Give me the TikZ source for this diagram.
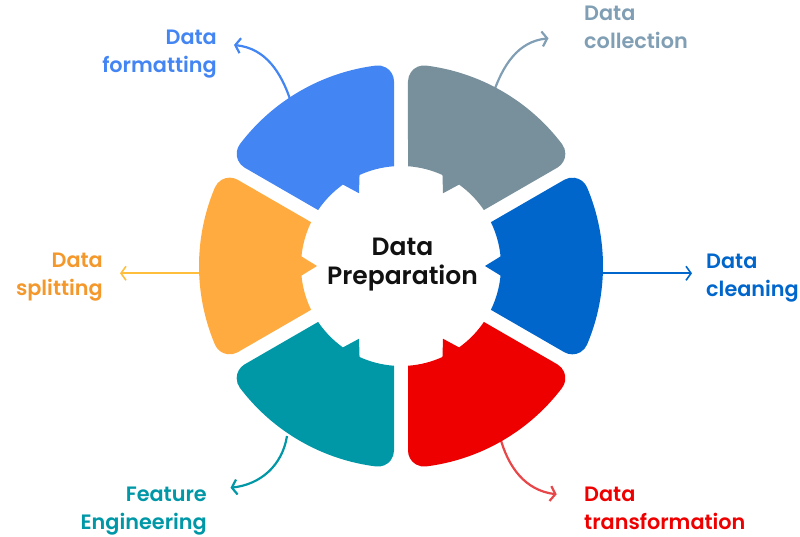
\documentclass[tikz,border=0pt]{standalone}
\usepackage{fontspec}
\setmainfont{Poppins SemiBold}[Ligatures=NoCommon]
\usetikzlibrary{arrows.meta}

% segment colours
\definecolor{fmtCol}{HTML}{4385F3}
\definecolor{collCol}{HTML}{78909C}
\definecolor{collText}{HTML}{809EB4}
\definecolor{cleanCol}{HTML}{0066CC}
\definecolor{splitCol}{HTML}{FFAB40}
\definecolor{splitText}{HTML}{F4982C}
\definecolor{splitArrow}{HTML}{FFBE3C}
\definecolor{featCol}{HTML}{0097A7}
\definecolor{transCol}{HTML}{EE0000}
\definecolor{transArrow}{HTML}{E8474A}
\definecolor{hubText}{HTML}{111111}

% geometry of the ring (pt): outer radius, inner radius, half gap, corner radius
\newcommand\segRo{202}
\newcommand\segRi{100}
\newcommand\segGap{7}
\newcommand\segRc{16}
\newcommand\segTip{84}
\newcommand\segNotch{5.5}

\begin{document}
\begin{tikzpicture}[x=1pt,y=1pt,
  lbl/.style={inner sep=0pt, font=\fontsize{20.8}{28}\selectfont},
  hub/.style={inner sep=0pt, align=center, text=hubText,
              font=\fontsize{25}{29}\selectfont},
  curvearrow/.style={line width=2.2pt, -{Straight Barb[length=5pt,width=15pt]}},
  flatarrow/.style={line width=1.6pt, -{Straight Barb[length=5pt,width=14pt]}}]
\useasboundingbox (0,0) rectangle (800,536);

% derived angles for the straight edges and corner fillets
\pgfmathsetmacro\segdI{asin(\segGap/\segRi)}
\pgfmathsetmacro\segPhiC{asin((\segGap+\segRc)/(\segRo-\segRc))}
\pgfmathsetmacro\segTE{(\segRo-\segRc)*cos(\segPhiC)}
\pgfmathsetmacro\segRE{veclen(\segTE,\segGap)}
\pgfmathsetmacro\segAE{atan(\segGap/\segTE)}

% one ring segment starting at angle #1, filled with colour #2
\newcommand\ringseg[2]{%
  \pgfmathsetmacro\sa{#1}%
  \pgfmathsetmacro\sb{#1+60}%
  \pgfmathsetmacro\sm{#1+30}%
  \fill[#2]
    (\sa+\segdI:\segRi) -- (\sa+\segAE:\segRE)
    arc[start angle=\sa-90, end angle=\sa+\segPhiC, radius=\segRc]
    arc[start angle=\sa+\segPhiC, end angle=\sb-\segPhiC, radius=\segRo]
    arc[start angle=\sb-\segPhiC, end angle=\sb+90, radius=\segRc]
    -- (\sb-\segdI:\segRi)
    arc[start angle=\sb-\segdI, end angle=\sm+\segNotch, radius=\segRi]
    -- (\sm:\segTip) -- (\sm-\segNotch:\segRi)
    arc[start angle=\sm-\segNotch, end angle=\sa+\segdI, radius=\segRi]
    -- cycle;}

% labels
\node[lbl, text=fmtCol, anchor=north east, align=right] (fmt) at (217,506.7) {Data\\formatting};
\node[lbl, text=collText, anchor=north west, align=left] (coll) at (584,530) {Data\\collection};
\node[lbl, text=cleanCol, anchor=north west, align=left] (clean) at (706,282.7) {Data\\cleaning};
\node[lbl, text=splitText, anchor=north east, align=right] (split) at (103,283.3) {Data\\splitting};
\node[lbl, text=featCol, anchor=north east, align=right] (feat) at (207,49.3) {Feature\\Engineering};
\node[lbl, text=transCol, anchor=north west, align=left] (trans) at (584,49.3) {Data\\transformation};

% connector ends
\coordinate (fmt-a) at (291,434);
\coordinate (fmt-b) at (234,491);
\coordinate (coll-a) at (493,442);
\coordinate (coll-b) at (548.5,497.7);
\coordinate (clean-a) at (596,262.7);
\coordinate (clean-b) at (692,262.7);
\coordinate (split-a) at (205,262.7);
\coordinate (split-b) at (120,262.7);
\coordinate (feat-a) at (287,100);
\coordinate (feat-b) at (230.5,48.3);
\coordinate (trans-a) at (500,99);
\coordinate (trans-b) at (556.7,41.7);

% connectors (drawn first so that they start beneath the segments)
\draw[curvearrow, fmtCol] (fmt-a) to[out=108, in=-6] (fmt-b);
\draw[curvearrow, collText] (coll-a) to[out=71, in=186] (coll-b);
\draw[flatarrow, cleanCol] (clean-a) -- (clean-b);
\draw[flatarrow, splitArrow] (split-a) -- (split-b);
\draw[curvearrow, featCol] (feat-a) to[out=-99, in=6] (feat-b);
\draw[curvearrow, transArrow] (trans-a) to[out=-75, in=173] (trans-b);

% the ring
\begin{scope}[shift={(401,270)}]
  \ringseg{-30}{cleanCol}
  \ringseg{30}{collCol}
  \ringseg{90}{fmtCol}
  \ringseg{150}{splitCol}
  \ringseg{210}{featCol}
  \ringseg{270}{transCol}
\end{scope}
\node[hub, anchor=north] (hub) at (402.5,297.7) {Data\\Preparation};
\end{tikzpicture}
\end{document}
